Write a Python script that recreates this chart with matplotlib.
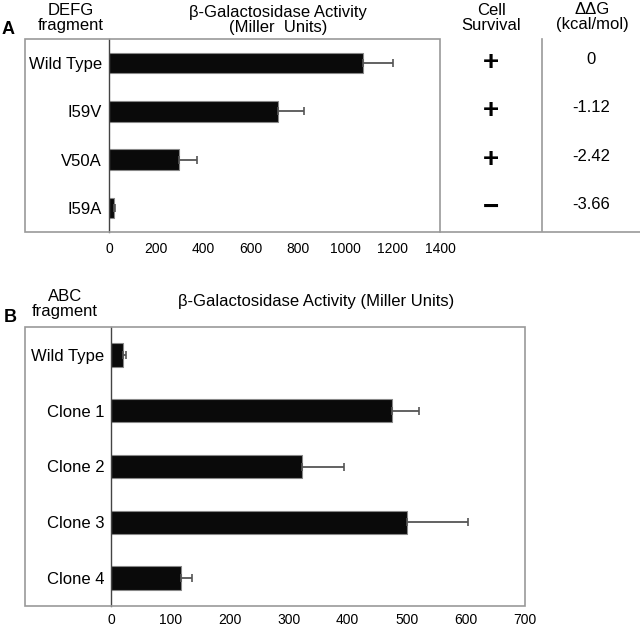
import matplotlib
matplotlib.use("Agg")
import matplotlib.pyplot as plt
import matplotlib.transforms as mtransforms
from matplotlib.lines import Line2D
from matplotlib.patches import Rectangle
import numpy as np

plt.rcParams['font.family'] = ['Liberation Sans', 'DejaVu Sans']

# Panel A data
defg_labels = ['Wild Type', 'I59V', 'V50A', 'I59A']
defg_activity = [1075, 715, 295, 20]
defg_err = [125, 108, 78, 5]
survival = ['+', '+', '+', '\u2212']
ddg = ['0', '-1.12', '-2.42', '-3.66']

# Panel B data
abc_labels = ['Wild Type', 'Clone 1', 'Clone 2', 'Clone 3', 'Clone 4']
abc_activity = [20, 475, 322, 500, 118]
abc_err = [4, 45, 72, 104, 18]

W, H = 640, 627
fig = plt.figure(figsize=(W / 100, H / 100), dpi=100)


def fx(x):
    return x / W


def fy(y):
    return 1 - y / H


def panel(left, zero, right, top, bottom, labels, vals, errs, xmax, step, pad):
    ax = fig.add_axes([fx(zero), fy(bottom), fx(right) - fx(zero), fy(top) - fy(bottom)])
    y = np.arange(len(labels))
    ax.barh(y, vals, height=0.42, color='#0a0a0a', edgecolor='#888888', linewidth=0.8,
            xerr=[np.zeros(len(errs)), errs],
            error_kw=dict(ecolor='#555555', elinewidth=1.3, capsize=3, capthick=1.2))
    ax.set_xlim(0, xmax)
    ax.set_ylim(len(labels) - 0.5, -0.5)
    ax.set_xticks(np.arange(0, xmax + 1, step))
    ax.set_yticks(y)
    ax.set_yticklabels(labels, fontsize=12)
    ax.tick_params(axis='x', length=0, pad=pad, labelsize=10)
    ax.tick_params(axis='y', length=0, pad=5)
    for s in ['top', 'right', 'bottom']:
        ax.spines[s].set_visible(False)
    ax.spines['left'].set_color('#444444')
    ax.spines['left'].set_linewidth(1.0)
    # outer box around labels and bars
    fig.add_artist(Rectangle((fx(left), fy(bottom)), fx(right) - fx(left), fy(top) - fy(bottom),
                             transform=fig.transFigure, fill=False, edgecolor='#999999', linewidth=1.2))
    return ax


# Panel A
axA = panel(24.5, 109, 440, 39, 232, defg_labels, defg_activity, defg_err, 1400, 200, 7)
fig.text(fx(8), fy(29), 'A', fontsize=13, fontweight='bold', ha='center', va='center')
fig.text(fx(71), fy(18), 'DEFG\nfragment', fontsize=12, ha='center', va='center', linespacing=1.0)
fig.text(fx(278), fy(20), '\u03b2-Galactosidase Activity\n(Miller  Units)', fontsize=12,
         ha='center', va='center', linespacing=1.0)
fig.text(fx(491), fy(18), 'Cell\nSurvival', fontsize=12, ha='center', va='center', linespacing=1.0)
fig.text(fx(592), fy(17), '\u0394\u0394G\n(kcal/mol)', fontsize=12, ha='center', va='center',
         linespacing=1.0)

# table lines to the right of panel A
fig.add_artist(Line2D([fx(542), fx(542)], [fy(39), fy(231)], transform=fig.transFigure,
                      color='#999999', linewidth=1.2))
fig.add_artist(Line2D([fx(440), fx(640)], [fy(231.5), fy(231.5)], transform=fig.transFigure,
                      color='#999999', linewidth=1.2))

trans = mtransforms.blended_transform_factory(fig.transFigure, axA.transData)
for i, (s, d) in enumerate(zip(survival, ddg)):
    fig.text(fx(491), i, s, transform=trans, fontsize=20, fontweight='bold',
             ha='center', va='center', family=['Liberation Sans', 'DejaVu Sans'])
    fig.text(fx(591), i - 0.07, d, transform=trans, fontsize=12, ha='center', va='center')

# Panel B
axB = panel(25, 111.4, 525, 327, 606, abc_labels, abc_activity, abc_err, 700, 100, 5)
fig.text(fx(10), fy(317), 'B', fontsize=13, fontweight='bold', ha='center', va='center')
fig.text(fx(65), fy(304), 'ABC\nfragment', fontsize=12, ha='center', va='center', linespacing=1.0)
fig.text(fx(316), fy(302), '\u03b2-Galactosidase Activity (Miller Units)', fontsize=12,
         ha='center', va='center')

fig.savefig('out.png', dpi=100)
